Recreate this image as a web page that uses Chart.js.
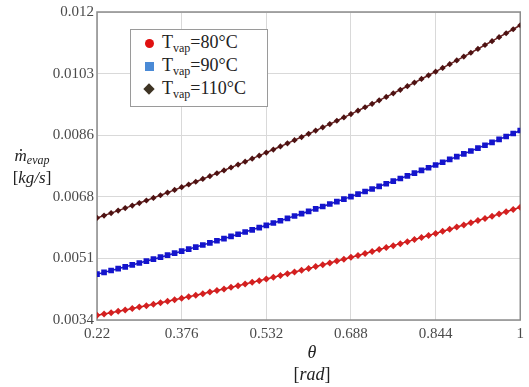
<!DOCTYPE html>
<html>
<head>
<meta charset="utf-8">
<script src="https://cdn.jsdelivr.net/npm/chart.js@4/dist/chart.umd.min.js"></script>
<style>
  body { margin: 0; background: #fff; }
  #wrap { position: relative; width: 529px; height: 387px; font-family: "Liberation Serif", "DejaVu Serif", serif; }
  #chart { position: absolute; left: 0; top: 0; }
  .ytitle { position: absolute; left: 7px; top: 147px; width: 50px; text-align: center; font-size: 17px; color: #222; line-height: 18px; }
  .xtitle { position: absolute; left: 262px; top: 341px; width: 100px; text-align: center; font-size: 18px; color: #222; line-height: 22px; }
  .mdot { position: relative; display: inline-block; }
  .mdot::after { content: ""; position: absolute; left: 50%; top: 2px; width: 2px; height: 2px; margin-left: -1px; background: #222; border-radius: 50%; }
  #legend { position: absolute; left: 130px; top: 29px; width: 136px; height: 76px; border: 1px solid #9a9a9a; background: #fff; }
  .row { position: absolute; left: 0; height: 22px; font-size: 18px; color: #222; white-space: nowrap; }
  .row span.t { position: absolute; left: 31px; top: 0; }
  .row sub { font-size: 12px; vertical-align: -4px; }
  .mk { position: absolute; }
</style>
</head>
<body>
<div id="wrap">
  <canvas id="chart" width="529" height="387"></canvas>
  <div class="ytitle"><i><span class="mdot">m</span><sub style="font-size:12px;vertical-align:-3px">evap</sub></i><br>[<i>kg/s</i>]</div>
  <div class="xtitle"><i>θ</i><br>[<i>rad</i>]</div>
  <div id="legend">
    <div class="row" style="top:2px;"><div class="mk" style="left:14px;top:7px;width:9px;height:9px;border-radius:50%;background:#e01010;"></div><span class="t">T<sub>vap</sub>=80°C</span></div>
    <div class="row" style="top:25px;"><div class="mk" style="left:14px;top:7px;width:9px;height:9px;background:#4a8ad6;"></div><span class="t">T<sub>vap</sub>=90°C</span></div>
    <div class="row" style="top:48px;"><div class="mk" style="left:14px;top:7px;width:8px;height:8px;background:#3e3424;transform:rotate(45deg);"></div><span class="t">T<sub>vap</sub>=110°C</span></div>
  </div>
</div>
<script>
const theta = [0.22, 0.233, 0.246, 0.259, 0.272, 0.285, 0.298, 0.311, 0.324, 0.337,
  0.35, 0.363, 0.376, 0.389, 0.402, 0.415, 0.428, 0.441, 0.454, 0.467,
  0.48, 0.493, 0.506, 0.519, 0.532, 0.545, 0.558, 0.571, 0.584, 0.597,
  0.61, 0.623, 0.636, 0.649, 0.662, 0.675, 0.688, 0.701, 0.714, 0.727,
  0.74, 0.753, 0.766, 0.779, 0.792, 0.805, 0.818, 0.831, 0.844, 0.857,
  0.87, 0.883, 0.896, 0.909, 0.922, 0.935, 0.948, 0.961, 0.974, 0.987, 1];

// T_vap = 80 °C
const mEvap80 = [0.003530, 0.003567, 0.003605, 0.003643, 0.003682, 0.003721, 0.003760, 0.003800, 0.003840, 0.003881,
  0.003922, 0.003964, 0.004006, 0.004049, 0.004092, 0.004135, 0.004179, 0.004223, 0.004268, 0.004313,
  0.004359, 0.004405, 0.004452, 0.004499, 0.004546, 0.004594, 0.004642, 0.004691, 0.004740, 0.004790,
  0.004840, 0.004891, 0.004942, 0.004993, 0.005045, 0.005097, 0.005150, 0.005203, 0.005257, 0.005311,
  0.005366, 0.005421, 0.005476, 0.005532, 0.005588, 0.005645, 0.005702, 0.005760, 0.005818, 0.005877,
  0.005936, 0.005995, 0.006055, 0.006115, 0.006176, 0.006237, 0.006299, 0.006361, 0.006424, 0.006487, 0.006550];

// T_vap = 90 °C
const mEvap90 = [0.004680, 0.004730, 0.004781, 0.004833, 0.004885, 0.004938, 0.004991, 0.005045, 0.005099, 0.005154,
  0.005210, 0.005266, 0.005322, 0.005379, 0.005437, 0.005495, 0.005554, 0.005613, 0.005673, 0.005733,
  0.005794, 0.005856, 0.005918, 0.005981, 0.006044, 0.006108, 0.006172, 0.006237, 0.006303, 0.006369,
  0.006435, 0.006502, 0.006570, 0.006638, 0.006707, 0.006776, 0.006846, 0.006916, 0.006987, 0.007059,
  0.007131, 0.007204, 0.007277, 0.007351, 0.007425, 0.007500, 0.007576, 0.007652, 0.007728, 0.007805,
  0.007883, 0.007961, 0.008040, 0.008119, 0.008199, 0.008279, 0.008360, 0.008442, 0.008524, 0.008607, 0.008690];

// T_vap = 110 °C
const mEvap110 = [0.006250, 0.006317, 0.006385, 0.006454, 0.006524, 0.006594, 0.006665, 0.006737, 0.006809, 0.006883,
  0.006957, 0.007032, 0.007108, 0.007183, 0.007260, 0.007338, 0.007417, 0.007497, 0.007577, 0.007658,
  0.007740, 0.007822, 0.007905, 0.007989, 0.008074, 0.008159, 0.008246, 0.008333, 0.008421, 0.008509,
  0.008598, 0.008688, 0.008779, 0.008871, 0.008963, 0.009056, 0.009150, 0.009245, 0.009340, 0.009436,
  0.009533, 0.009630, 0.009729, 0.009828, 0.009928, 0.010029, 0.010130, 0.010233, 0.010335, 0.010439,
  0.010543, 0.010649, 0.010755, 0.010862, 0.010969, 0.011078, 0.011186, 0.011296, 0.011406, 0.011518, 0.011630];

const xTicks = [0.22, 0.376, 0.532, 0.688, 0.844, 1];
const xTickLabels = ["0.22", "0.376", "0.532", "0.688", "0.844", "1"];
const yTicks = [0.0034, 0.00512, 0.00684, 0.00856, 0.01028, 0.012];
const yTickLabels = ["0.0034", "0.0051", "0.0068", "0.0086", "0.0103", "0.012"];

const pts = (ys) => theta.map((x, i) => ({ x: x, y: ys[i] }));

const frame = {
  id: "frame",
  beforeDatasetsDraw(chart) {
    const a = chart.chartArea, ctx = chart.ctx;
    ctx.save();
    ctx.strokeStyle = "#8c8c8c";
    ctx.lineWidth = 1.5;
    ctx.strokeRect(a.left, a.top, a.right - a.left, a.bottom - a.top);
    ctx.restore();
  },
};

const tickFont = { family: "'Liberation Serif', serif", size: 15 };

new Chart(document.getElementById("chart"), {
  type: "line",
  data: {
    datasets: [
      {
        label: "Tvap=80°C", data: pts(mEvap80),
        borderColor: "#c81e1e", backgroundColor: "#d42020", borderWidth: 1.5,
        pointStyle: "rectRot", pointRadius: 3.5, pointBorderWidth: 0, tension: 0,
      },
      {
        label: "Tvap=90°C", data: pts(mEvap90),
        borderColor: "#1818c8", backgroundColor: "#1414cc", borderWidth: 1.5,
        pointStyle: "rect", pointRadius: 4, pointBorderWidth: 0, tension: 0,
      },
      {
        label: "Tvap=110°C", data: pts(mEvap110),
        borderColor: "#6a2222", backgroundColor: "#4e1212", borderWidth: 1.5,
        pointStyle: "rectRot", pointRadius: 3.1, pointBorderWidth: 0, tension: 0,
      },
    ],
  },
  options: {
    responsive: false,
    animation: false,
    layout: { padding: { left: 0, right: 4, top: 11, bottom: 0 } },
    plugins: { legend: { display: false }, tooltip: { enabled: false } },
    scales: {
      x: {
        type: "linear", min: 0.22, max: 1,
        afterBuildTicks: (axis) => { axis.ticks = xTicks.map((v) => ({ value: v })); },
        afterFit: (s) => { s.height = 67; },
        ticks: { font: tickFont, color: "#4a4a4a", padding: 5, maxRotation: 0, autoSkip: false,
          callback: (v, i) => xTickLabels[i] },
        grid: { color: "#d9d9d9", lineWidth: 1, drawTicks: false },
        border: { display: false },
      },
      y: {
        type: "linear", min: 0.0034, max: 0.012,
        afterBuildTicks: (axis) => { axis.ticks = yTicks.map((v) => ({ value: v })); },
        afterFit: (s) => { s.width = 97; },
        ticks: { font: tickFont, color: "#4a4a4a", padding: 3, autoSkip: false,
          callback: (v, i) => yTickLabels[i] },
        grid: { color: "#d9d9d9", lineWidth: 1, drawTicks: false },
        border: { display: false },
      },
    },
  },
  plugins: [frame],
});
</script>
</body>
</html>
